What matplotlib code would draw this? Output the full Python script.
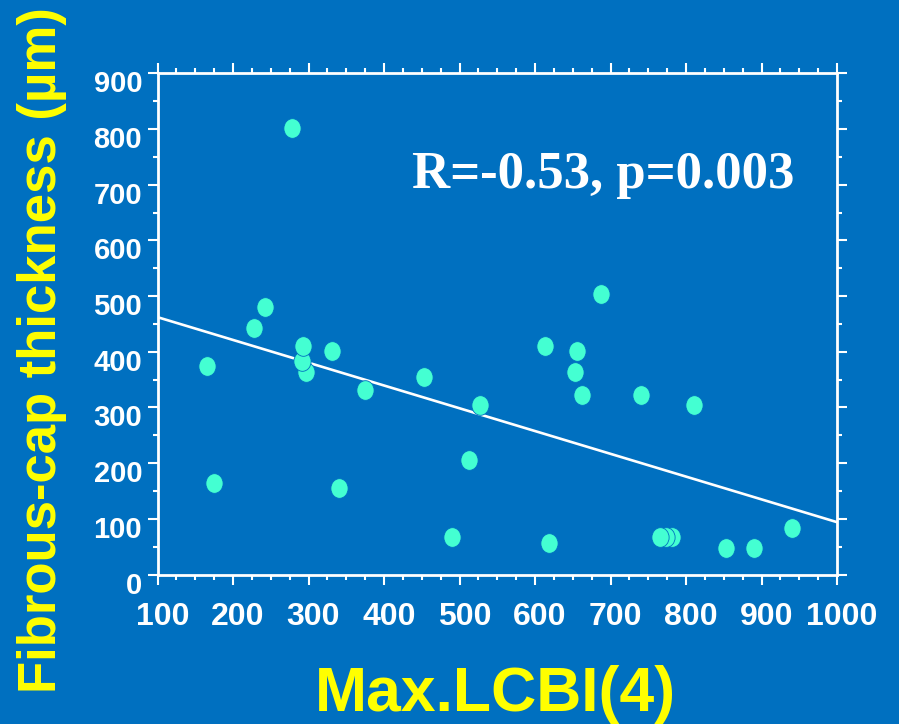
import numpy as np
import matplotlib
matplotlib.use("Agg")
import matplotlib.pyplot as plt
from matplotlib.path import Path
from matplotlib.transforms import ScaledTranslation
from matplotlib.ticker import MultipleLocator

# Max.LCBI(4) vs fibrous-cap thickness (µm)
max_lcbi = [166, 175, 228, 243, 278, 297, 291, 331, 340, 375, 453, 490,
            512, 527, 613, 618, 656, 653, 662, 687, 740, 810, 782, 773, 766,
            853, 890, 940, 293]
cap_thickness = [374, 164, 443, 480, 802, 363, 384, 401, 155, 331, 355, 67,
                 206, 304, 411, 56, 401, 364, 322, 504, 322, 304, 67, 67, 67,
                 47, 47, 84, 411]

# Least-squares regression line (intercept, slope)
fit_intercept = 503.0
fit_slope = -0.409
annotation = "R=-0.53, p=0.003"

BG = "#0070C0"
DOT = "#44FFD2"
YELLOW = "#FFFF00"

fig = plt.figure(figsize=(8.99, 7.24), dpi=100, facecolor=BG)
ax = fig.add_axes([157.5 / 899, 1 - 574.5 / 724, 679.5 / 899, 501.2 / 724])
ax.set_facecolor(BG)

ax.set_xlim(100, 1000)
ax.set_ylim(0, 900)

# regression line
xl = np.array([100, 1000])
ax.plot(xl, fit_intercept + fit_slope * xl, color="white", lw=1.9, zorder=2)

# slightly tall elliptical markers
circ = Path.unit_circle()
ell = Path(circ.vertices * np.array([1.0, 1.14]), circ.codes)
ax.scatter(max_lcbi, cap_thickness, s=200, marker=ell, color=DOT,
           edgecolor=BG, linewidths=0.6, zorder=3)

ax.text(437, 694, annotation, fontfamily="Liberation Serif", fontweight="bold",
        fontsize=38, color="white", va="baseline", ha="left")

# spines and ticks
for sp in ax.spines.values():
    sp.set_color("white")
    sp.set_linewidth(2.0)

ax.xaxis.set_major_locator(MultipleLocator(100))
ax.xaxis.set_minor_locator(MultipleLocator(25))
ax.yaxis.set_major_locator(MultipleLocator(100))
ax.yaxis.set_minor_locator(MultipleLocator(50))
ax.tick_params(which="both", direction="out", color="white", width=1.5,
               top=True, right=True)
ax.tick_params(which="major", length=7)
ax.tick_params(which="minor", length=3.6)
ax.tick_params(axis="x", which="major", pad=13, labelsize=23, labelcolor="white")
ax.tick_params(axis="y", which="major", pad=4, labelsize=21, labelcolor="white")

for lab in ax.get_xticklabels():
    lab.set_fontfamily("Liberation Sans")
    lab.set_fontweight("bold")
    lab.set_transform(lab.get_transform() + ScaledTranslation(5 / 100, 0, fig.dpi_scale_trans))
for lab in ax.get_yticklabels():
    lab.set_fontfamily("Liberation Sans")
    lab.set_fontweight("bold")
    lab.set_transform(lab.get_transform() + ScaledTranslation(0, -8 / 100, fig.dpi_scale_trans))

fig.text(495 / 899, 1 - 711.5 / 724, "Max.LCBI(4)", fontfamily="Liberation Sans",
         fontweight="bold", fontsize=45, color=YELLOW, ha="center", va="baseline")
fig.text(42 / 899, 1 - 350 / 724, "Fibrous-cap thickness (µm)", fontfamily="Liberation Sans",
         fontweight="bold", fontsize=38, color=YELLOW, ha="center", va="center",
         rotation=90)

fig.savefig("out.png", dpi=100, facecolor=BG)
